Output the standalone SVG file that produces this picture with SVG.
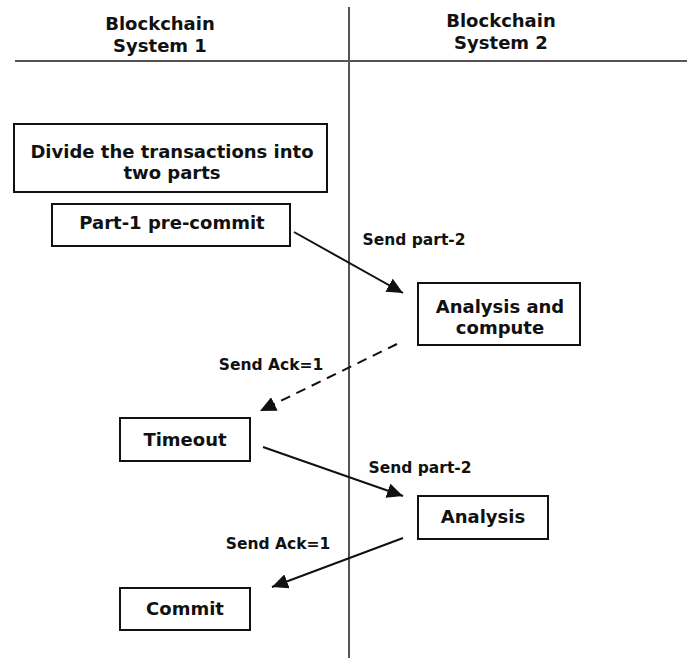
<svg xmlns="http://www.w3.org/2000/svg" width="687" height="658" viewBox="0 0 687 658">
<defs>
<style>
.t{font-family:"DejaVu Sans","Liberation Sans",sans-serif;font-weight:bold;fill:#111;text-anchor:middle}
.h{font-size:18px}
.b{font-size:18px}
.l{font-size:15.5px}
.box{fill:#fff;stroke:#111;stroke-width:2}
.ax{stroke:#555;stroke-width:2;fill:none}
.c{stroke:#111;stroke-width:2;fill:none}
</style>
<marker id="ah" markerUnits="userSpaceOnUse" markerWidth="17" markerHeight="15" refX="16" refY="7.5" orient="auto">
<path d="M0,0 L16,7.5 L0,15 Z" fill="#111"/>
</marker>
</defs>
<rect width="687" height="658" fill="#fff"/>
<g id="axes">
<line class="ax" x1="349" y1="7" x2="349" y2="658"/>
<line class="ax" x1="15" y1="61" x2="687" y2="61"/>
</g>
<g id="header1"><text class="t h" x="160" y="30">Blockchain</text><text class="t h" x="160" y="52">System 1</text></g>
<g id="header2"><text class="t h" x="501" y="27">Blockchain</text><text class="t h" x="501" y="49">System 2</text></g>
<g id="divide"><rect class="box" x="14" y="124" width="313" height="68"/><text class="t b" x="172" y="158">Divide the transactions into</text><text class="t b" x="172" y="179">two parts</text></g>
<g id="part1"><rect class="box" x="52" y="204" width="238" height="42"/><text class="t b" x="172" y="229">Part-1 pre-commit</text></g>
<g id="analysiscompute"><rect class="box" x="418" y="283" width="162" height="62"/><text class="t b" x="500" y="313">Analysis and</text><text class="t b" x="500" y="334">compute</text></g>
<g id="timeout"><rect class="box" x="120" y="418" width="130" height="43"/><text class="t b" x="185" y="446">Timeout</text></g>
<g id="analysis"><rect class="box" x="418" y="496" width="130" height="43"/><text class="t b" x="483" y="523">Analysis</text></g>
<g id="commit"><rect class="box" x="120" y="588" width="130" height="42"/><text class="t b" x="185" y="615">Commit</text></g>
<g id="connectors">
<line class="c" x1="294" y1="232" x2="403" y2="293" marker-end="url(#ah)"/>
<line class="c" x1="397" y1="344" x2="260" y2="411" stroke-dasharray="10,7" marker-end="url(#ah)"/>
<line class="c" x1="263" y1="447" x2="403" y2="496" marker-end="url(#ah)"/>
<line class="c" x1="403" y1="538" x2="272" y2="587" marker-end="url(#ah)"/>
<text class="t l" x="414" y="245">Send part-2</text>
<text class="t l" x="271" y="370">Send Ack=1</text>
<text class="t l" x="420" y="473">Send part-2</text>
<text class="t l" x="278" y="549">Send Ack=1</text>
</g>
</svg>
